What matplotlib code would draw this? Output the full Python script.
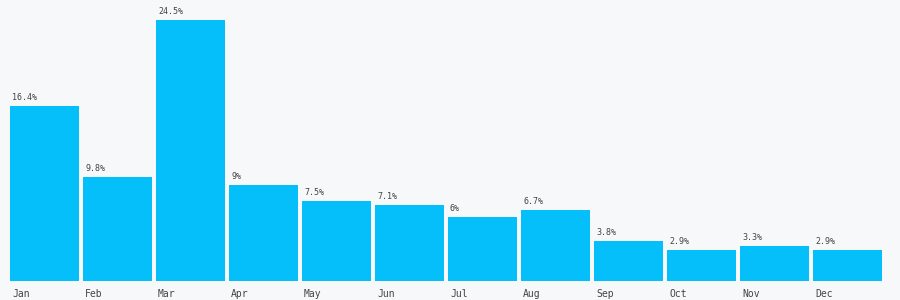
import matplotlib
matplotlib.use("Agg")
import matplotlib.pyplot as plt
import numpy as np

months = ["Jan", "Feb", "Mar", "Apr", "May", "Jun", "Jul", "Aug", "Sep", "Oct", "Nov", "Dec"]
values = [16.4, 9.8, 24.5, 9, 7.5, 7.1, 6, 6.7, 3.8, 2.9, 3.3, 2.9]
value_labels = ["16.4%", "9.8%", "24.5%", "9%", "7.5%", "7.1%", "6%", "6.7%", "3.8%", "2.9%", "3.3%", "2.9%"]

bg = "#f7f8fa"
bar_color = "#05bffb"
text_color = "#444444"

fig = plt.figure(figsize=(9, 3), dpi=100, facecolor=bg)
W, H = 900, 300
left, right, bottom, top = 8, 884, 281, 20
ax = fig.add_axes([left / W, 1 - bottom / H, (right - left) / W, (bottom - top) / H])
ax.set_facecolor(bg)

x = np.arange(len(months))
bw = 69 / 73
bars = ax.bar(x, values, width=bw, color=bar_color, align="center")
ax.set_xlim(-0.5, len(months) - 0.5)
ax.set_ylim(0, 24.5)

for xi, v, lab in zip(x, values, value_labels):
    ax.annotate(lab, (xi - bw / 2, v), xytext=(2, 4), textcoords="offset pixels",
                ha="left", va="bottom", fontsize=6, family="DejaVu Sans Mono",
                color=text_color, clip_on=False, annotation_clip=False)
    ax.annotate(months[xi], (xi - bw / 2, 0), xytext=(2, -8), textcoords="offset pixels",
                ha="left", va="top", fontsize=7, family="DejaVu Sans Mono",
                color=text_color, annotation_clip=False)

for s in ax.spines.values():
    s.set_visible(False)
ax.set_xticks([])
ax.set_yticks([])

fig.savefig("out.png", dpi=100, facecolor=bg)
